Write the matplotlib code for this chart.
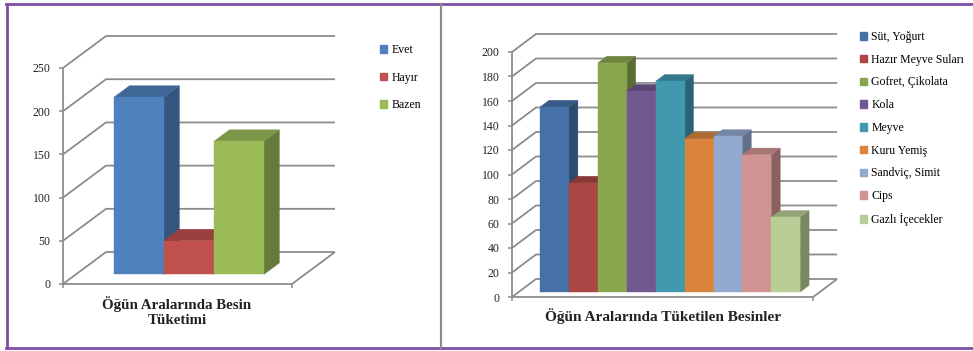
import matplotlib.pyplot as plt
import matplotlib.colors as mcolors
from matplotlib.patches import Polygon, Patch
from matplotlib.lines import Line2D
import numpy as np

plt.rcParams['font.family'] = ['Liberation Serif', 'DejaVu Serif']

W, H = 973, 351

# left chart: snacking between meals
answer_labels = ['Evet', 'Hayır', 'Bazen']
answer_counts = [205, 39, 154]
answer_colors = ['#4F81BD', '#C0504D', '#9BBB59']
answer_ticks = [0, 50, 100, 150, 200, 250]

# right chart: foods eaten between meals
food_labels = ['Süt, Yoğurt', 'Hazır Meyve Suları', 'Gofret, Çikolata', 'Kola',
               'Meyve', 'Kuru Yemiş', 'Sandviç, Simit', 'Cips', 'Gazlı İçecekler']
food_counts = [151, 89, 187, 164, 172, 125, 127, 112, 61]
food_colors = ['#4571A8', '#AA4643', '#89A54E', '#71588F', '#4198AF',
               '#DB843D', '#93A9CF', '#D19392', '#B9CD96']
food_ticks = list(range(0, 201, 20))

GRID = '#8c8c8c'


def shade(color, f):
    r, g, b = mcolors.to_rgb(color)
    return (r * f, g * f, b * f)


def panel_axes(fig, corner, top_right, px_x, px_v, xL):
    # corner = pixel of the front-left floor corner, axes start there
    x0, y0 = corner
    x1, y1 = top_right
    ax = fig.add_axes([x0 / W, 1 - y0 / H, (x1 - x0) / W, (y0 - y1) / H])
    ax.set_xlim(xL, xL + (x1 - x0) / px_x)
    ax.set_ylim(0, (y0 - y1) / px_v)
    ax.patch.set_visible(False)
    return ax


def draw_chart(ax, values, colors, ticks, xL, xR, DX, DY, z0, z1):
    def p(x, z, v):
        return (x + z * DX, v + z * DY)

    grid = dict(color=GRID, lw=1.3, solid_capstyle='butt', clip_on=False, zorder=1)
    for t in ticks:
        ax.plot(*zip(p(xL, 0, t), p(xL, 1, t), p(xR, 1, t)), **grid)
    ax.plot(*zip(p(xL, 0, 0), p(xR, 0, 0), p(xR, 1, 0)), **grid)

    xs = np.arange(len(values))
    bars = ax.bar(xs - 0.5 + z0 * DX, values, width=1, bottom=z0 * DY, align='edge',
                  color=colors, linewidth=0.3, clip_on=False)
    for i, (bar, v, c) in enumerate(zip(bars, values, colors)):
        xl, xr = i - 0.5, i + 0.5
        side = [p(xr, z0, 0), p(xr, z1, 0), p(xr, z1, v), p(xr, z0, v)]
        top = [p(xl, z0, v), p(xr, z0, v), p(xr, z1, v), p(xl, z1, v)]
        ax.add_patch(Polygon(side, closed=True, fc=shade(c, 0.66), ec=shade(c, 0.66),
                             lw=0.3, zorder=3 + i * 0.1, clip_on=False))
        ax.add_patch(Polygon(top, closed=True, fc=shade(c, 0.8), ec=shade(c, 0.8),
                             lw=0.3, zorder=3 + i * 0.1, clip_on=False))
        bar.set_edgecolor(c)
        bar.set_zorder(3.05 + i * 0.1)

    for s in ['top', 'right', 'bottom']:
        ax.spines[s].set_visible(False)
    ax.spines['left'].set_bounds(0, ticks[-1])
    ax.spines['left'].set_color(GRID)
    ax.spines['left'].set_linewidth(1.3)
    ax.set_yticks(ticks)
    ax.set_xticks([xL, xR])
    ax.set_xticklabels([])
    ax.tick_params(axis='y', length=3, width=1.1, color=GRID, labelsize=8.5, pad=6,
                   labelcolor='#222222')
    ax.tick_params(axis='x', length=3, width=1.1, color=GRID)


fig = plt.figure(figsize=(W / 100, H / 100), dpi=100)

# left chart
ax1 = panel_axes(fig, (63, 284), (345, 25), 50, 0.864, -1.26)
draw_chart(ax1, answer_counts, answer_colors, answer_ticks,
           -1.26, 3.32, 0.86, 37, 0.3, 0.66)

# right chart
ax2 = panel_axes(fig, (512, 297), (850, 25), 28.9, 1.225, -1.24)
draw_chart(ax2, food_counts, food_colors, food_ticks,
           -1.24, 9.18, 0.83, 14.7, 0.28, 0.65)

# legends
h1 = [Patch(color=c) for c in answer_colors]
fig.legend(h1, answer_labels, loc='upper left', bbox_to_anchor=(380 / W, 1 - 44 / H),
           frameon=False, fontsize=8.5, handlelength=0.6, handleheight=0.6,
           handletextpad=0.35, labelspacing=1.33, borderpad=0, borderaxespad=0)
h2 = [Patch(color=c) for c in food_colors]
fig.legend(h2, food_labels, loc='upper left', bbox_to_anchor=(860 / W, 1 - 31 / H),
           frameon=False, fontsize=8.5, handlelength=0.6, handleheight=0.6,
           handletextpad=0.35, labelspacing=0.91, borderpad=0, borderaxespad=0)

# titles
fig.text(177 / W, 1 - 311.5 / H, 'Öğün Aralarında Besin\nTüketimi', ha='center',
         va='center', fontsize=10.8, fontweight='bold', linespacing=1.15, color='#222222')
fig.text(663 / W, 1 - 316 / H, 'Öğün Aralarında Tüketilen Besinler', ha='center',
         va='center', fontsize=11, fontweight='bold', color='#222222')

# frame round both charts
purple = '#7E4FA6'
fig.add_artist(Line2D([6 / W, 1], [1 - 4 / H, 1 - 4 / H], color=purple, lw=2))
fig.add_artist(Line2D([6 / W, 1], [1 - 348 / H, 1 - 348 / H], color=purple, lw=2))
fig.add_artist(Line2D([7 / W, 7 / W], [1 - 4 / H, 1 - 348 / H], color=purple, lw=2))
fig.add_artist(Line2D([441 / W, 441 / W], [1 - 4 / H, 1 - 348 / H], color='#8a8a8a', lw=1.6))

fig.savefig('out.png', dpi=100)
